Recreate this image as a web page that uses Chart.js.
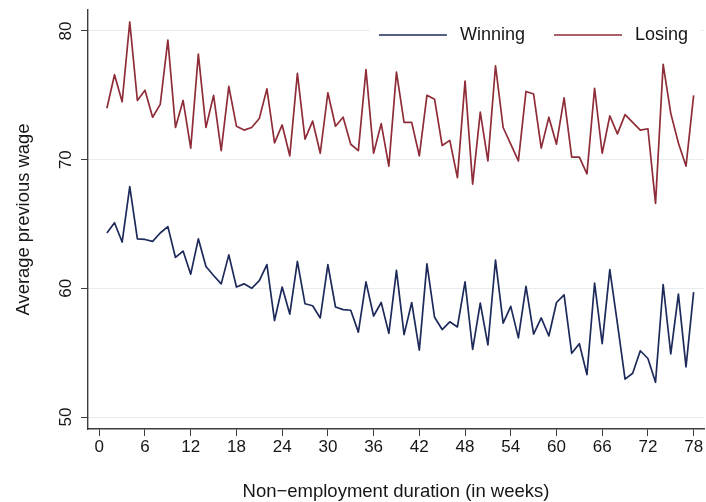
<!DOCTYPE html>
<html>
<head>
<meta charset="utf-8">
<script src="https://cdn.jsdelivr.net/npm/chart.js@4"></script>
<style>
  html, body { margin: 0; padding: 0; background: #fff; }
  #wrap { width: 706px; height: 502px; }
</style>
</head>
<body>
<div id="wrap"><canvas id="c" width="706" height="502"></canvas></div>
<script>
// Weeks of non-employment
const weeks = [1, 2, 3, 4, 5, 6, 7, 8, 9, 10, 11, 12, 13, 14, 15, 16, 17, 18, 19, 20,
  21, 22, 23, 24, 25, 26, 27, 28, 29, 30, 31, 32, 33, 34, 35, 36, 37, 38, 39, 40,
  41, 42, 43, 44, 45, 46, 47, 48, 49, 50, 51, 52, 53, 54, 55, 56, 57, 58, 59, 60,
  61, 62, 63, 64, 65, 66, 67, 68, 69, 70, 71, 72, 73, 74, 75, 76, 77, 78];

// Average previous wage by week
const winning = [64.3, 65.1, 63.6, 67.9, 63.85, 63.8, 63.65, 64.3, 64.8, 62.4,
  62.9, 61.1, 63.85, 61.7, 61.0, 60.35, 62.6, 60.1, 60.35, 60.0,
  60.6, 61.85, 57.5, 60.1, 58.0, 62.1, 58.8, 58.65, 57.7, 61.85,
  58.55, 58.35, 58.3, 56.6, 60.5, 57.85, 58.9, 56.5, 61.4, 56.4,
  58.9, 55.2, 61.9, 57.75, 56.8, 57.4, 57.0, 60.5, 55.25, 58.85,
  55.6, 62.2, 57.3, 58.6, 56.15, 60.15, 56.45, 57.7, 56.3, 58.9,
  59.5, 54.95, 55.7, 53.3, 60.4, 55.7, 61.45, 57.25, 52.95, 53.4,
  55.15, 54.55, 52.7, 60.3, 54.9, 59.55, 53.9, 59.7];

const losing = [74.0, 76.6, 74.5, 80.7, 74.6, 75.4, 73.3, 74.3, 79.3, 72.5,
  74.6, 70.9, 78.2, 72.5, 75.0, 70.7, 75.7, 72.6, 72.3, 72.5,
  73.2, 75.5, 71.3, 72.7, 70.3, 76.7, 71.6, 73.0, 70.5, 75.2,
  72.6, 73.3, 71.2, 70.7, 77.0, 70.5, 72.8, 69.5, 76.8, 72.9,
  72.9, 70.3, 75.0, 74.7, 71.1, 71.5, 68.6, 76.1, 68.1, 73.7,
  69.9, 77.3, 72.5, 71.2, 69.9, 75.3, 75.1, 70.9, 73.3, 71.2,
  74.8, 70.2, 70.2, 68.9, 75.55, 70.5, 73.4, 72.0, 73.5, 72.9,
  72.3, 72.4, 66.6, 77.4, 73.6, 71.3, 69.5, 75.0];

const xTicks = [0, 6, 12, 18, 24, 30, 36, 42, 48, 54, 60, 66, 72, 78];
const yTicks = [50, 60, 70, 80];

const seriesNames = ['Winning', 'Losing'];
const seriesColors = ['#1d2a5a', '#8e2c38'];

const FONT = '"Liberation Sans", Arial, Helvetica, sans-serif';
const TEXT = '#161616';
const AXIS = '#3c3c3c';

// Legend key: a short horizontal stroke with a little air on each side
function legendKey(color) {
  const c = document.createElement('canvas');
  c.width = 85;
  c.height = 4;
  const g = c.getContext('2d');
  g.strokeStyle = color;
  g.lineWidth = 1.6;
  g.beginPath();
  g.moveTo(13, 2);
  g.lineTo(81, 2);
  g.stroke();
  return c;
}

function toPoints(values) {
  return weeks.map((w, i) => ({ x: w, y: values[i] }));
}

// Keeps the legend row inside the plot area and gives it a white backing
const insetLegend = {
  id: 'insetLegend',
  afterLayout(chart) {
    const lg = chart.legend;
    if (!lg) return;
    lg.height = 50;
    lg.bottom = lg.top + 50;
  },
  beforeDatasetsDraw(chart) {
    const lg = chart.legend;
    if (!lg || !lg.legendHitBoxes || !lg.legendHitBoxes.length) return;
    const ctx = chart.ctx;
    const left = lg.legendHitBoxes[0].left + 4;
    const right = chart.chartArea.right - 4;
    ctx.save();
    ctx.fillStyle = '#ffffff';
    ctx.fillRect(left, chart.chartArea.top + 3, right - left, 42);
    ctx.restore();
    lg.draw();
  }
};

new Chart(document.getElementById('c'), {
  type: 'line',
  data: {
    datasets: [
      {
        label: seriesNames[0],
        data: toPoints(winning),
        borderColor: seriesColors[0],
        backgroundColor: seriesColors[0],
        borderWidth: 1.7,
        borderJoinStyle: 'round',
        pointRadius: 0,
        pointStyle: legendKey(seriesColors[0]),
        tension: 0
      },
      {
        label: seriesNames[1],
        data: toPoints(losing),
        borderColor: seriesColors[1],
        backgroundColor: seriesColors[1],
        borderWidth: 1.7,
        borderJoinStyle: 'round',
        pointRadius: 0,
        pointStyle: legendKey(seriesColors[1]),
        tension: 0
      }
    ]
  },
  options: {
    responsive: false,
    animation: false,
    devicePixelRatio: 1,
    layout: { padding: { top: 10, right: 2, left: 0, bottom: 0 } },
    plugins: {
      tooltip: { enabled: false },
      legend: {
        position: 'top',
        align: 'end',
        maxHeight: 0.01,
        labels: {
          usePointStyle: true,
          pointStyleWidth: 85,
          padding: 16,
          color: TEXT,
          font: { family: FONT, size: 18 }
        }
      }
    },
    scales: {
      x: {
        type: 'linear',
        min: -1.48,
        max: 79.36,
        afterBuildTicks: (s) => { s.ticks = xTicks.map(v => ({ value: v })); },
        afterFit: (s) => { s.height = 73; s.paddingLeft = 0; s.paddingRight = 0; },
        grid: { drawOnChartArea: false, drawTicks: true, tickLength: 7, tickColor: AXIS, tickWidth: 1 },
        border: { color: AXIS, width: 1.4 },
        ticks: {
          autoSkip: false, maxRotation: 0, padding: 1, color: TEXT,
          font: { family: FONT, size: 17, lineHeight: 1.2 }
        },
        title: {
          display: true,
          text: 'Non−employment duration (in weeks)',
          color: TEXT,
          font: { family: FONT, size: 18.5, lineHeight: 1.07 },
          padding: { top: 0, bottom: 0 }
        }
      },
      y: {
        min: 49.07,
        max: 81.63,
        afterBuildTicks: (s) => { s.ticks = yTicks.map(v => ({ value: v })); },
        afterFit: (s) => { s.width = 88; s.paddingTop = 0; s.paddingBottom = 0; },
        grid: { color: '#e6edf1', lineWidth: 1, drawTicks: true, tickLength: 7, tickColor: AXIS, tickWidth: 1 },
        border: { color: AXIS, width: 1.4 },
        ticks: {
          minRotation: 90, maxRotation: 90, crossAlign: 'center', padding: 5, color: TEXT,
          font: { family: FONT, size: 17, lineHeight: 1.2 }
        },
        title: {
          display: true,
          text: 'Average previous wage',
          color: TEXT,
          font: { family: FONT, size: 18.4, lineHeight: 1.1 },
          padding: { top: 14, bottom: 0 }
        }
      }
    }
  },
  plugins: [insetLegend]
});
</script>
</body>
</html>
